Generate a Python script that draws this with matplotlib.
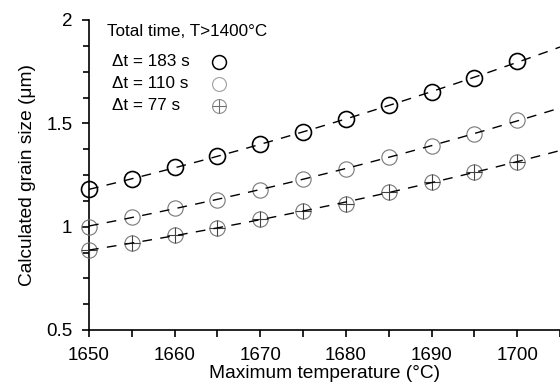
import numpy as np
import matplotlib
matplotlib.use("Agg")
import matplotlib.pyplot as plt
from matplotlib.ticker import MultipleLocator, FixedLocator, FixedFormatter

plt.rcParams['font.family'] = ['Liberation Sans', 'DejaVu Sans']

temps = [1650, 1655, 1660, 1665, 1670, 1675, 1680, 1685, 1690, 1695, 1700]
size_183 = [1.18, 1.23, 1.287, 1.34, 1.40, 1.46, 1.52, 1.589, 1.65, 1.718, 1.80]
size_110 = [1.0, 1.047, 1.09, 1.13, 1.179, 1.232, 1.279, 1.337, 1.391, 1.448, 1.514]
size_77 = [0.886, 0.921, 0.958, 0.992, 1.036, 1.077, 1.111, 1.17, 1.214, 1.264, 1.313]
labels = ["\u0394t = 183 s", "\u0394t = 110 s", "\u0394t = 77 s"]
legend_title = "Total time, T>1400\u00b0C"
yticks = [0.5, 1, 1.5, 2]
yticklabels = ["0.5", "1", "1.5", "2"]
xticks = [1650, 1660, 1670, 1680, 1690, 1700]

W, H = 560, 389
fig = plt.figure(figsize=(W / 100, H / 100), dpi=100)
ax = fig.add_axes([89 / W, (H - 330) / H, (W - 89) / W, 310 / H])
ax.set_xlim(1650, 1705)
ax.set_ylim(0.5, 2)

x = np.array(temps, dtype=float)
xf = np.linspace(1650, 1705, 200)
gray = '#777777'

# markers
ax.plot(x, size_183, 'o', ms=11.5, mfc='none', mec='black', mew=1.2, clip_on=False, zorder=3)
ax.plot(x, size_110, 'o', ms=11, mfc='none', mec=gray, mew=0.8, clip_on=False, zorder=3)
ax.plot(x, size_77, 'o', ms=11, mfc='none', mec=gray, mew=0.8, clip_on=False, zorder=3)
ax.plot(x, size_77, '+', ms=11, mec='#404040', mew=0.8, clip_on=False, zorder=3)

# fitted dashed trend lines
for ys in (size_183, size_110, size_77):
    c = np.polyfit(x, np.array(ys), 2)
    ax.plot(xf, np.polyval(c, xf), color='black', lw=1.0, dashes=(7, 6), zorder=4)

for s in ('top', 'right'):
    ax.spines[s].set_visible(False)
for s in ('left', 'bottom'):
    ax.spines[s].set_linewidth(1.2)

ax.xaxis.set_major_locator(FixedLocator(xticks))
ax.xaxis.set_minor_locator(MultipleLocator(5))
ax.yaxis.set_major_locator(FixedLocator(yticks))
ax.yaxis.set_major_formatter(FixedFormatter(yticklabels))
ax.yaxis.set_minor_locator(MultipleLocator(0.125))
ax.tick_params(axis='both', which='major', direction='out', length=5, width=1.2, labelsize=13.5)
ax.tick_params(axis='x', which='minor', direction='out', length=5, width=1.2)
ax.tick_params(axis='y', which='minor', direction='out', length=4, width=1.2)
ax.tick_params(axis='y', which='major', pad=7)
ax.tick_params(axis='x', which='major', pad=7)

ax.set_xlabel("Maximum temperature (\u00b0C)", fontsize=13.8, labelpad=1)
ax.set_ylabel("Calculated grain size (\u03bcm)", fontsize=13.8, labelpad=7)

# legend (manual)
def fx(px):
    return px / W
def fy(py):
    return 1 - py / H

fig.text(fx(107), fy(32), legend_title, fontsize=12.3, va='center', ha='left')
rows = [62, 84, 106]
for lab, ry in zip(labels, rows):
    fig.text(fx(112), fy(ry), lab, fontsize=12.3, va='center', ha='left')
lx = fx(219)
fig.lines.append(plt.Line2D([lx], [fy(rows[0])], marker='o', ms=10, mfc='none', mec='black', mew=1.1, transform=fig.transFigure))
fig.lines.append(plt.Line2D([lx], [fy(rows[1])], marker='o', ms=10, mfc='none', mec='#a0a0a0', mew=0.8, transform=fig.transFigure))
fig.lines.append(plt.Line2D([lx], [fy(rows[2])], marker='o', ms=10, mfc='none', mec='#909090', mew=0.8, transform=fig.transFigure))
fig.lines.append(plt.Line2D([lx], [fy(rows[2])], marker='+', ms=10, mec='#707070', mew=0.8, transform=fig.transFigure))

fig.savefig("out.png", dpi=100)
